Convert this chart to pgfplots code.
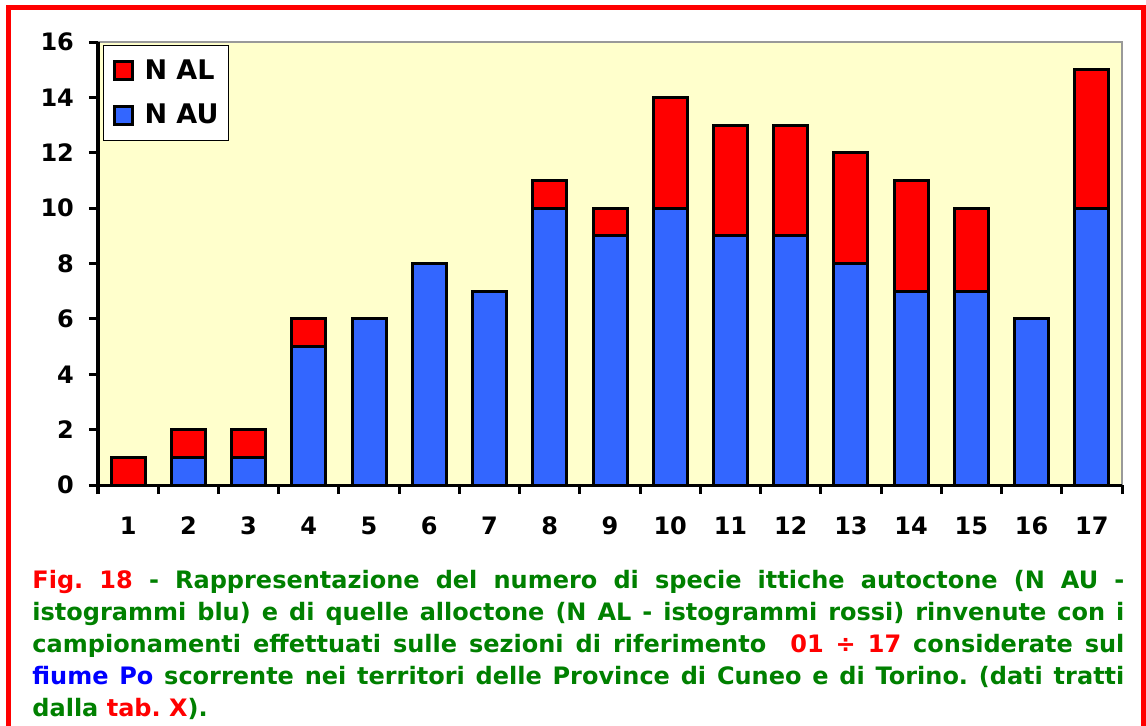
\documentclass[border=0pt]{standalone}
\usepackage{pgfplots}
\pgfplotsset{compat=1.18}
\usepackage{fontspec}
\setmainfont{DejaVu Sans}
\frenchspacing
\definecolor{alred}{RGB}{255,0,0}
\definecolor{aublue}{RGB}{51,102,255}
\definecolor{plotbg}{RGB}{255,255,204}
\definecolor{capgreen}{RGB}{0,128,0}
\definecolor{capblue}{RGB}{0,0,255}

\pgfplotstableread{
x au al
1 0 1
2 1 1
3 1 1
4 5 1
5 6 0
6 8 0
7 7 0
8 10 1
9 9 1
10 10 4
11 9 4
12 9 4
13 8 4
14 7 4
15 7 3
16 6 0
17 10 5
}\speciestab

\begin{document}
\begin{tikzpicture}[font=\bfseries]
% page = 1146 x 725 px, 1 px = 0.5 pt, origin top left
\path[use as bounding box] (0,0) rectangle (573pt,-362.5pt);
\draw[red, line width=2.5pt] (4.25pt,-3.5pt) rectangle (571.5pt,-370pt);

\begin{axis}[at={(49pt,-242.5pt)}, anchor=south west, scale only axis,
	width=512pt, height=221.5pt,
	ybar stacked, bar width=17pt,
	xmin=0.5, xmax=17.5, ymin=0, ymax=16,
	axis lines=left, axis line style={-, line width=1.5pt},
	axis background/.style={fill=plotbg, draw=gray!80, line width=0.8pt},
	xtick={0.5,1.5,...,17.5},
	xticklabels={1,2,3,4,5,6,7,8,9,10,11,12,13,14,15,16,17,},
	x tick label style={xshift=15.06pt, yshift=-8pt},
	ytick={0,2,...,16},
	tick align=outside, major tick length=4.5pt,
	every tick/.style={black, line width=1.5pt},
	tick label style={font=\fontsize{12}{14}\selectfont\bfseries},
	/pgf/number format/assume math mode=true,
	y tick label style={xshift=-4pt},
	legend style={at={(0,1)}, anchor=north west, xshift=2.5pt, yshift=-1.5pt,
		draw=black, line width=0.5pt, fill=white,
		font=\fontsize{13.5}{16}\selectfont\bfseries,
		row sep=7pt, inner xsep=3pt, inner ysep=5pt},
	legend cell align=left, reverse legend,
	legend image code/.code={\path (-1pt,0pt) (13pt,0pt);
		\draw[#1, draw=black, line width=1.5pt]
		(0.5pt,-4.5pt) rectangle (9.5pt,4.5pt);},
]
\addplot[fill=aublue, draw=black, line width=1.5pt] table[x=x, y=au] {\speciestab};
\addplot[fill=alred, draw=black, line width=1.5pt] table[x=x, y=al] {\speciestab};
\legend{N AU, N AL}
\end{axis}

\node[anchor=north west, inner sep=0pt, align=left, text=capgreen,
	font=\fontsize{12}{16}\selectfont\bfseries] at (16pt,-285pt) {%
\makebox[546pt][s]{\textcolor{red}{Fig. 18} - Rappresentazione del numero di specie ittiche autoctone (N AU -}\\
\makebox[546pt][s]{istogrammi blu) e di quelle alloctone (N AL - istogrammi rossi) rinvenute con i}\\
\makebox[546pt][s]{campionamenti effettuati sulle sezioni di riferimento \ \textcolor{red}{01 ÷ 17} considerate sul}\\
\makebox[546pt][s]{\textcolor{capblue}{fiume Po} scorrente nei territori delle Province di Cuneo e di Torino. (dati tratti}\\
dalla \textcolor{red}{tab. X}).};
\end{tikzpicture}
\end{document}
